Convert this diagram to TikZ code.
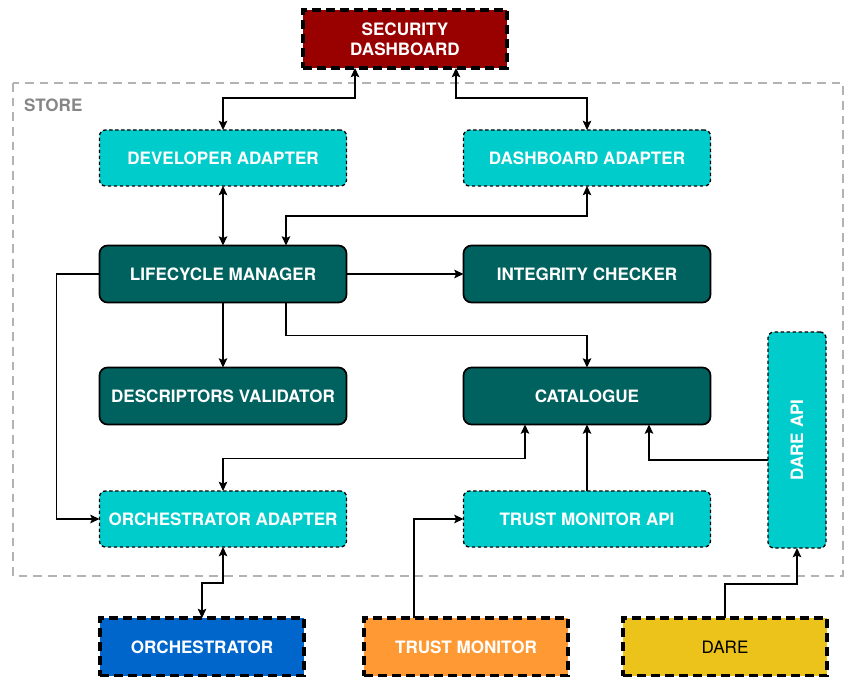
\documentclass[tikz,border=0pt]{standalone}
\usepackage{fontspec}
\setmainfont{TeX Gyre Heros}
\usepackage{graphicx}
\usepackage{tikz}
\usetikzlibrary{arrows.meta,positioning,calc}

\definecolor{secred}{HTML}{990000}
\definecolor{adcyan}{HTML}{00CCCC}
\definecolor{coreteal}{HTML}{00625F}
\definecolor{orchblue}{HTML}{0066CC}
\definecolor{tmorange}{HTML}{FF9933}
\definecolor{dareyellow}{HTML}{EBC31A}
\definecolor{storegray}{HTML}{B3B3B3}

\begin{document}
\begin{tikzpicture}[
    x=0.75pt, y=-0.75pt,
    every node/.style={
        font=\fontsize{12.8}{15}\selectfont\bfseries,
        align=center,
        inner sep=0pt, outer sep=0pt
    },
    adapter/.style={
        rectangle, draw, rounded corners=4.5pt,
        fill=adcyan, text=white,
        line width=1pt, dash pattern=on 2.6pt off 1.9pt,
        minimum width=185.25pt, minimum height=42pt
    },
    core/.style={
        rectangle, draw, rounded corners=6pt,
        fill=coreteal, text=white, line width=1.3pt,
        minimum width=185.25pt, minimum height=42.75pt
    },
    external/.style={
        rectangle, draw, text=white,
        line width=2.8pt, dash pattern=on 6.5pt off 4pt,
        minimum width=153pt, minimum height=43.5pt
    },
    link/.style={
        line width=0.9pt,
        >={Stealth[inset=1.5pt,length=7pt,width=6.5pt]}
    }
]
\useasboundingbox (0,0) rectangle (845,677);

\draw[storegray, line width=1.8pt, dash pattern=on 6.5pt off 4.5pt] (13,83) rectangle (843,576);
\node[anchor=west, text=storegray!75!black] (storelbl) at (24,105) {STORE};

\node[external, fill=secred] (secdash) at (405,39) {SECURITY\\DASHBOARD};

\node[adapter] (devad) at (223,158) {DEVELOPER ADAPTER};
\node[adapter] (dashad) at (587,158) {DASHBOARD ADAPTER};
\node[core] (lcm) at (223,274) {LIFECYCLE MANAGER};
\node[core] (integ) at (587,274) {INTEGRITY CHECKER};
\node[core] (descval) at (223,396) {DESCRIPTORS VALIDATOR};
\node[core] (catal) at (587,396) {CATALOGUE};
\node[adapter] (orchad) at (223,519) {ORCHESTRATOR ADAPTER};
\node[adapter] (tmapi) at (587,519) {TRUST MONITOR API};
\node[adapter, minimum width=43.5pt, minimum height=162pt] (dareapi) at (797,440) {\rotatebox{90}{DARE API}};

\node[external, fill=orchblue] (orch) at (202,647) {ORCHESTRATOR};
\node[external, fill=tmorange] (trustmon) at (466,647) {TRUST MONITOR};
\node[external, fill=dareyellow, text=black, font=\fontsize{12.8}{15}\selectfont] (dare) at (725,647) {DARE};

\draw[link,<->] ($(secdash.south)+(-50,0)$) -- ++(0,30) -| (devad.north);
\draw[link,<->] ($(secdash.south)+(51,0)$) -- ++(0,30) -| (dashad.north);
\draw[link,<->] (devad) -- (lcm);
\draw[link,<->] (dashad.south) -- ++(0,30) -| ($(lcm.north)+(63,0)$);
\draw[link,->] (lcm) -- (integ);
\draw[link,->] (lcm) -- (descval);
\draw[link,->] ($(lcm.south)+(63,0)$) -- ++(0,33) -| (catal.north);
\draw[link,->] (lcm.west) -- ++(-43,0) |- (orchad.west);
\draw[link,<->] ($(catal.south)+(-62,0)$) -- ++(0,34) -| (orchad.north);
\draw[link,->] (tmapi) -- (catal);
\draw[link,->] ($(dareapi.west)+(0,20)$) -| ($(catal.south)+(62,0)$);
\draw[link,<->] (orchad.south) -- ++(0,36) -| (orch.north);
\draw[link,->] ($(trustmon.north)+(-52,0)$) |- (tmapi.west);
\draw[link,->] (dare.north) -- ++(0,-34) -| (dareapi.south);
\end{tikzpicture}
\end{document}
